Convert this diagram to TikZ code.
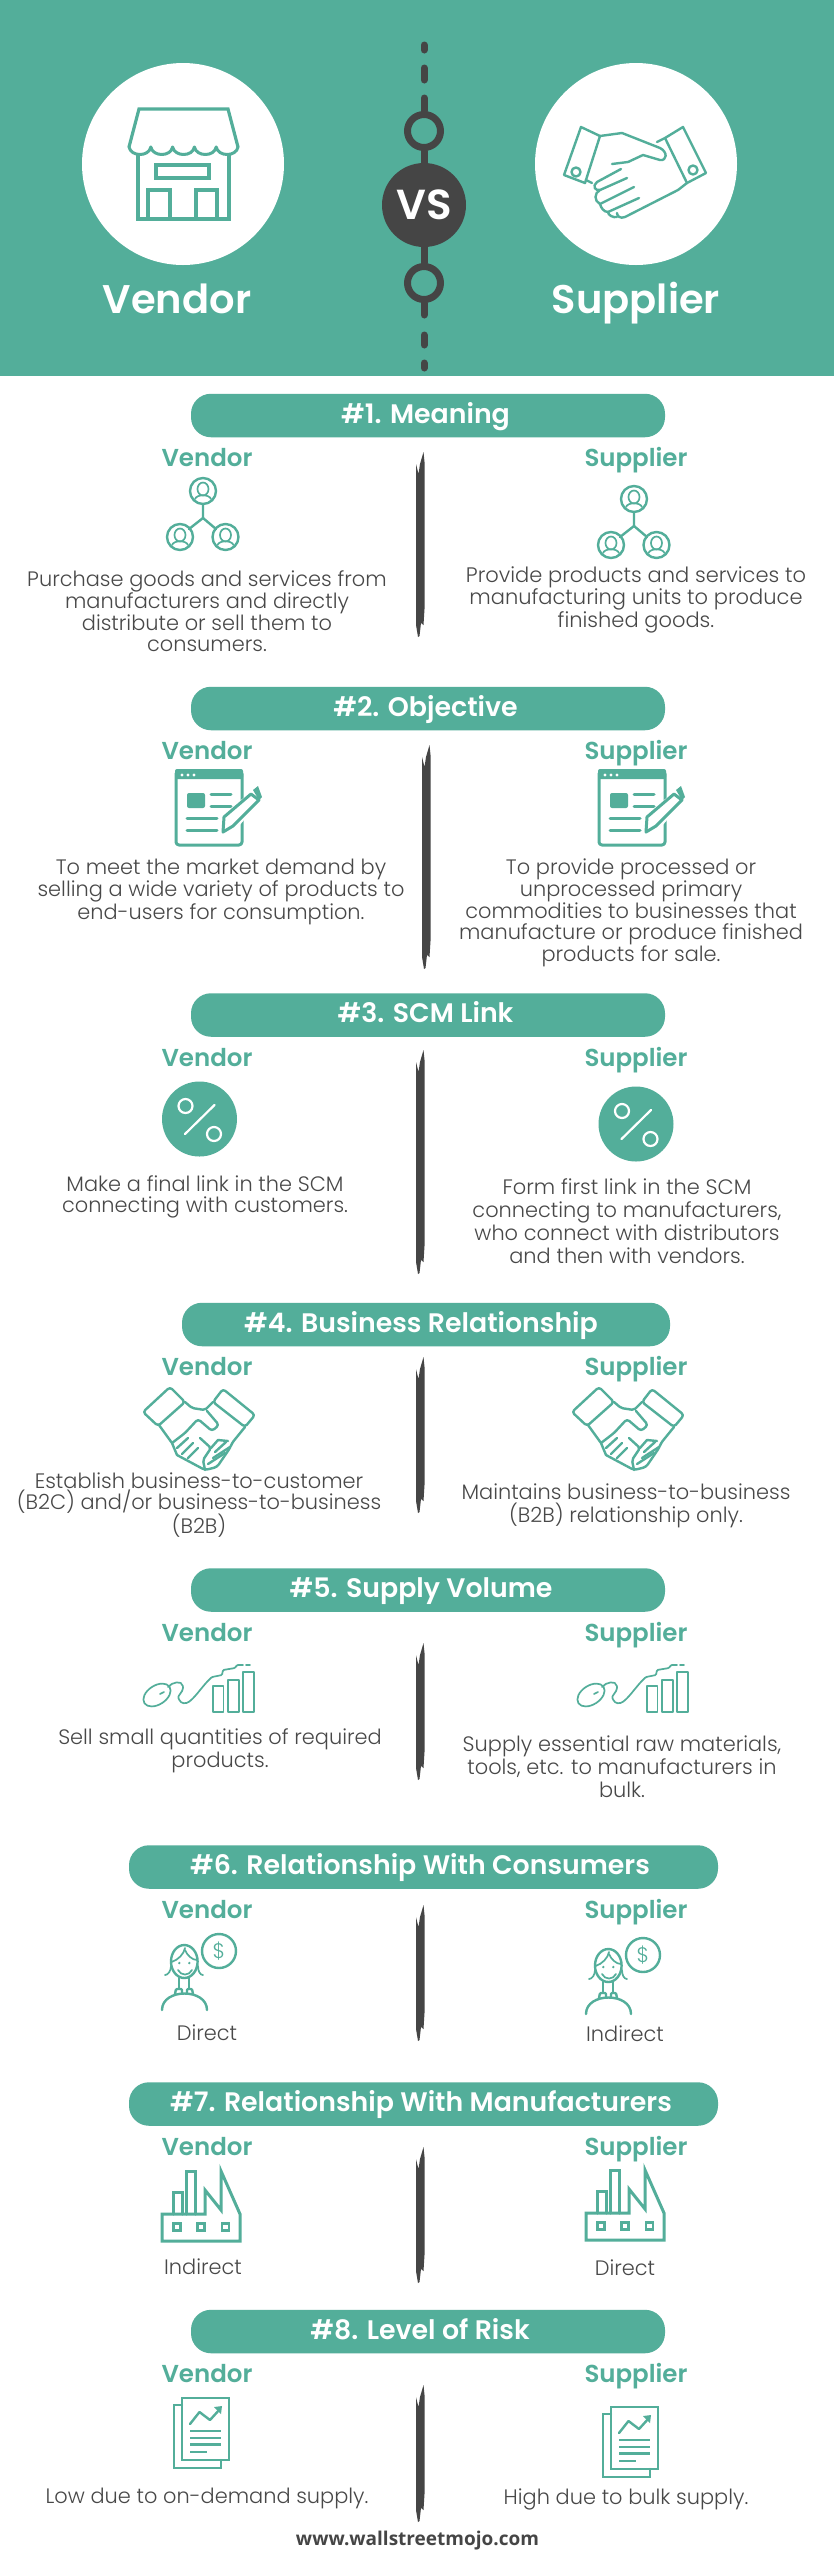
\documentclass[tikz,border=0pt]{standalone}
\usepackage{fontspec}
\setmainfont{Poppins}
\newfontfamily\bodyf{Poppins}[UprightFont=* Light]
\newfontfamily\headf{Poppins}[UprightFont=* SemiBold]
\newfontfamily\footf{Open Sans}
\definecolor{teal1}{HTML}{53AE9A}
\definecolor{dark1}{HTML}{454545}
\definecolor{txt1}{HTML}{484848}
\tikzset{
 ic/.style={draw=teal1,line width=2.4pt,line join=round,line cap=round},
 icw/.style={draw=white,line width=2.2pt,line join=round,line cap=round},
 thinic/.style={draw=teal1,line width=1.7pt,line join=round,line cap=round},
 pill/.style={fill=teal1,rounded corners=20pt,inner sep=0pt,draw=none},
 title/.style={text=white,inner sep=0pt,anchor=base,font=\headf\fontsize{26.8}{28}\selectfont},
 head/.style={text=teal1,inner sep=0pt,anchor=base,font=\headf\fontsize{24.5}{28}\selectfont},
 bigname/.style={text=white,inner sep=0pt,anchor=base,font=\headf\fontsize{40}{44}\selectfont},
 ring/.style={circle,draw=dark1,line width=7pt,inner sep=0pt,minimum size=33pt},
 chain/.style={draw=dark1,line width=7pt,line cap=round},
}
\newcommand{\bt}[6]{\node[align=center,inner sep=0pt,text=txt1,font=\bodyf\fontsize{#4}{#5}\selectfont] (#1) at (#2,#3) {#6};}
\newcommand{\pillbox}[7]{%
 \node[pill,minimum width={(#3-#2)*1pt},minimum height=43.5pt] (p#1) at ({(#2+#3)/2},#4) {};
 \node[title] (t#1) at (#5,{#6+8.7}) {#7};}
\newcommand{\heads}[2]{%
 \node[head] (v#1) at (207,{#2+9.7}) {Vendor};
 \node[head] (s#1) at (636,{#2+9.7}) {Supplier};}
\newcommand{\divbar}[3]{%
 \fill[dark1] ({#1+3.5},#2) -- ({#1+4.5},{#2+10}) -- ({#1+4.5},{#3-28}) -- ({#1+3.5},{#3-12}) -- ({#1+1},{#3-14}) -- ({#1-0.5},{#3-1}) -- ({#1-2},#3) -- ({#1-4},{#3-12}) -- ({#1-4},{#2+12}) -- ({#1-1.5},{#2+22}) -- ({#1},{#2+12}) -- cycle;}
% icons, drawn at the place of the Vendor one
\newcommand{\oneperson}[2]{%
 \draw[ic] (#1,#2) circle (13pt);
 \draw[thinic] (#1,{#2-2}) ellipse (5.5pt and 6.5pt);
 \draw[thinic] ({#1-8},{#2+8}) .. controls ({#1-6},{#2+3}) and ({#1+6},{#2+3}) .. ({#1+8},{#2+8});}
\newcommand{\iconpeople}{%
 \oneperson{203}{491}\oneperson{180}{537}\oneperson{225.5}{537}
 \draw[ic] (203,504) -- (203,518) -- (189,529);
 \draw[ic] (203,518) -- (216,529);}
\newcommand{\iconform}{%
 \draw[ic,line width=3pt,rounded corners=3pt] (176,771) rectangle (242,845);
 \fill[teal1,rounded corners=2pt] (175,769) rectangle (243,779);
 \foreach \q in {182,188,194} {\fill[white] (\q,775) circle (1.6pt);}
 \fill[teal1,rounded corners=2pt] (187,793) rectangle (205,808);
 \draw[ic,line width=3pt] (211,794) -- (231,794);
 \draw[ic,line width=3pt] (211,806) -- (231,806);
 \draw[ic,line width=3pt] (187,818) -- (217,818);
 \draw[ic,line width=3pt] (187,830) -- (217,830);
 \fill[white] (222,833) -- (222,816) -- (253,790) -- (264,797) -- (232,834) -- cycle;
 \draw[ic,line width=3pt] (223,832) -- (224,817) -- (251,794) -- (259,800) -- (233,826) -- cycle;
 \fill[teal1] (253,790) -- (258,786) -- (262,797) -- (259,800) -- cycle;}
\newcommand{\iconpct}[2]{%
 \fill[teal1] (#1,#2) circle (37.5pt);
 \draw[icw] ({#1-14},{#2-13}) circle (7pt);
 \draw[icw] ({#1+14.5},{#2+15}) circle (7pt);
 \draw[icw] ({#1+15},{#2-14}) -- ({#1-14.5},{#2+15});}
\newcommand{\iconshake}{%
 \draw[ic,rounded corners=3pt] (170,1387) -- (185,1402) -- (158,1426) -- (143,1412) -- cycle;
 \draw[ic,rounded corners=3pt] (223,1389) -- (255,1415) -- (245,1427) -- (213,1402) -- cycle;
 \draw[ic,rounded corners=2pt] (185,1402) -- (192,1408) -- (205,1410) -- (213,1402);
 \draw[ic,rounded corners=3pt] (172,1443) -- (185,1433) -- (198,1419) -- (212,1431) -- (219,1425) -- (207,1411);
 \draw[ic] (159,1425) -- (172,1443) -- (177,1455);
 \draw[ic,rounded corners=3pt] (177,1455) -- (205,1470) -- (217,1467) -- (230,1448) -- (232,1443) -- (245,1427);
 \draw[ic,rounded corners=2pt] (200,1438) -- (211,1448) -- (203,1460) -- (205,1470);
 \draw[ic] (188,1438) -- (177,1448);
 \draw[ic] (193,1443) -- (182,1454);
 \draw[ic] (198,1448) -- (188,1458);
 \draw[ic] (211,1448) -- (218,1440) -- (228,1441);
 \draw[ic] (215,1452) -- (226,1442);
 \draw[ic] (213,1458) -- (230,1447);
 \draw[ic] (208,1464) -- (225,1453);}
\newcommand{\iconmouse}{%
 \draw[thinic,rotate around={33:(157,1695)}] (157,1695) ellipse (15pt and 9.5pt);
 \draw[thinic] (160,1694) -- (164,1692);
 \draw[thinic,rounded corners=1pt] (168,1687) .. controls (172,1682) and (182,1680) .. (183,1687) .. controls (183,1692) and (177,1696) .. (179,1699) .. controls (181,1704) and (186,1704) .. (190,1701) .. controls (197,1695) and (204,1684) .. (212,1677) -- (222,1675) -- (223,1670) -- (235,1668) -- (237,1665) -- (243,1665);
 \draw[thinic] (246,1665) -- (250,1665);
 \draw[thinic] (213,1686) rectangle (223.5,1712);
 \draw[thinic] (228,1680) rectangle (239,1712);
 \draw[thinic] (243,1672) rectangle (254,1712);}
\newcommand{\iconperson}[1]{%
 \draw[ic] (219,1951) circle (17pt);
 \node[text=teal1,inner sep=0pt,font=\bodyf\fontsize{21}{22}\selectfont] (#1) at (219,1951) {\$};
 \draw[ic] (184.3,1961.5) ellipse (13.3pt and 16.5pt);
 \draw[thinic] (171.5,1962) .. controls (178,1960) and (184,1954) .. (185,1948);
 \draw[thinic] (185,1950) .. controls (187,1955) and (192,1960) .. (197,1960);
 \draw[thinic] (178,1970) .. controls (181,1976) and (189,1976) .. (192,1970);
 \fill[teal1] (179.3,1963) circle (1.3pt) (189.3,1963) circle (1.3pt);
 \draw[thinic] (171,1966) .. controls (171,1971) and (168,1975) .. (165,1975);
 \draw[thinic] (198,1966) .. controls (198,1971) and (200,1975) .. (203,1975);
 \draw[ic] (179,1978) -- (179,1988);
 \draw[ic] (189,1978) -- (189,1988);
 \draw[ic,rounded corners=1pt] (175,1994) -- (176,1989) -- (182,1989) -- (182,1993);
 \draw[ic,rounded corners=1pt] (187,1993) -- (187,1989) -- (192,1989) -- (193,1994);
 \draw[ic] (162,2010) .. controls (162,1988) and (207,1988) .. (207,2010);}
\newcommand{\iconfactory}{%
 \draw[ic,line width=3pt,line join=miter] (162,2214) -- (162,2241) -- (240,2241) -- (240,2214) -- (221,2171) -- (221,2210) -- (205,2190) -- (205,2214) -- cycle;
 \draw[ic,line width=3pt,line join=miter] (173,2214) -- (173,2192) -- (182,2192) -- (182,2214);
 \draw[ic,line width=3pt,line join=miter] (186,2214) -- (186,2171) -- (195,2171) -- (195,2214);
 \foreach \q in {177,201,225.5} {\draw[ic,line join=miter] ({\q-3.5},2223.5) rectangle ({\q+3.5},2230.5);}}
\newcommand{\icondoc}{%
 \draw[ic,line join=miter] (182,2398) rectangle (229,2460);
 \draw[ic,line join=miter] (182,2405) -- (174,2405) -- (174,2468) -- (221,2468) -- (221,2460);
 \draw[ic] (190,2424) -- (199.5,2412) -- (210,2420) -- (220,2409);
 \fill[teal1] (222,2406) -- (214,2407) -- (221,2414) -- cycle;
 \draw[ic,line cap=butt] (190,2431) -- (221,2431);
 \draw[ic,line cap=butt] (190,2438) -- (221,2438);
 \draw[ic,line cap=butt] (190,2444.5) -- (221,2444.5);
 \draw[ic,line cap=butt] (190,2452) -- (207,2452);}
\begin{document}
\begin{tikzpicture}[x=1pt,y=-1pt]
\useasboundingbox (0,0) rectangle (834,2560);
\fill[white] (0,0) rectangle (834,2560);
% header
\fill[teal1] (0,0) rectangle (834,376);
\node[circle,fill=white,minimum size=202pt,inner sep=0pt] (cv) at (183,164) {};
\node[circle,fill=white,minimum size=202pt,inner sep=0pt] (cs) at (636,164) {};
\node[bigname] (nv) at (177,313) {Vendor};
\node[bigname] (ns) at (636,313) {Supplier};
% chain
\node[circle,fill=dark1,minimum size=84pt,inner sep=0pt,text=white,font=\headf\fontsize{42}{44}\selectfont] (vs) at (424,205) {VS};
\node[ring] (r1) at (424,131) {};
\node[ring] (r2) at (424,283) {};
\coordinate (c0a) at (424,45); \coordinate (c0b) at (424,50);
\coordinate (c1a) at (424,68); \coordinate (c1b) at (424,80);
\coordinate (c2) at (424,98);
\coordinate (c3) at (424,315);
\coordinate (c4a) at (424,335); \coordinate (c4b) at (424,345);
\coordinate (c5a) at (424,363); \coordinate (c5b) at (424,368);
\draw[chain] (c0a) -- (c0b);
\draw[chain] (c1a) -- (c1b);
\draw[chain] (c2) -- (r1);
\draw[chain] (r1) -- (vs);
\draw[chain] (vs) -- (r2);
\draw[chain] (r2) -- (c3);
\draw[chain] (c4a) -- (c4b);
\draw[chain] (c5a) -- (c5b);
% store
\draw[ic,line width=3.2pt,line join=miter] (129,147) -- (139,109) -- (228,109) -- (238,147);
\foreach \q in {0,1,2,3,4} {\draw[ic,line width=3pt] ({129+\q*21.8},147) .. controls ({131+\q*21.8},157) and ({149+\q*21.8},157) .. ({150.8+\q*21.8},147);}
\draw[ic,line width=3.2pt,line join=miter] (138,155) -- (138,219) -- (229,219) -- (229,155);
\draw[ic,line width=3.2pt,line join=miter] (156,165) rectangle (209,178);
\draw[ic,line width=3.2pt,line join=miter] (148,219) -- (148,190) -- (170,190) -- (170,219);
\draw[ic,line width=3.2pt,line join=miter] (196,219) -- (196,190) -- (217,190) -- (217,219);
% big handshake
\draw[ic] (581,127) -- (600,136) -- (585,183) -- (564,175) -- cycle;
\draw[ic] (683,127) -- (665,138) -- (687,183) -- (706,173) -- cycle;
\draw[ic] (576,172) circle (4.5pt);
\draw[ic] (693,170) circle (4.5pt);
\draw[ic] (600,136) -- (622,133) -- (660,148) .. controls (668,152) and (667,161) .. (660,160) -- (643,155) -- (628,162) -- (612,164);
\draw[ic] (657,142) -- (665,138);
\draw[ic] (687,183) -- (678,190) -- (625,217) .. controls (620,219) and (617,216) .. (617,213);
\draw[ic] (586,180) -- (592,183);
\draw[ic] (621,169) -- (597,182) .. controls (592,186) and (595,191) .. (600,190);
\draw[ic] (627,178) -- (600,190) .. controls (594,193) and (594,201) .. (600,204);
\draw[ic] (634,187) -- (600,204) .. controls (601,208) and (604,212) .. (608,212);
\draw[ic] (639,198) -- (608,212) .. controls (608,215) and (613,218) .. (617,217);
% section 1
\pillbox{1}{191}{665}{415.5}{425.5}{415}{\#1. Meaning}
\heads{1}{457}
\divbar{420}{452}{637}
\iconpeople
\begin{scope}[shift={(431,8)}]\iconpeople\end{scope}
\bt{b1v}{207}{611}{20.9}{21}{Purchase goods and services from\\manufacturers and directly\\distribute or sell them to\\consumers.}
\bt{b1s}{636}{600}{21}{21}{Provide products and services to\\manufacturing units to produce\\finished goods.}
% section 2
\pillbox{2}{191}{665}{708.5}{425.5}{708}{\#2. Objective}
\heads{2}{750}
\divbar{426}{745}{969}
\iconform
\begin{scope}[shift={(423,0)}]\iconform\end{scope}
\bt{b2v}{221}{892}{20.9}{21}{To meet the market demand by\\selling a wide variety of products to\\end-users for consumption.}
\bt{b2s}{631}{913}{20.9}{21}{To provide processed or\\unprocessed primary\\commodities to businesses that\\manufacture or produce finished\\products for sale.}
% section 3
\pillbox{3}{191}{665}{1015}{425.5}{1014}{\#3. SCM Link}
\heads{3}{1057}
\divbar{420}{1050}{1274}
\iconpct{199.5}{1119}
\iconpct{636}{1124}
\bt{b3v}{205}{1197}{20.9}{21}{Make a final link in the SCM\\connecting with customers.}
\bt{b3s}{627}{1221.5}{20.9}{23}{Form first link in the SCM\\connecting to manufacturers,\\who connect with distributors\\and then with vendors.}
% section 4
\pillbox{4}{182}{670}{1324.5}{421}{1324}{\#4. Business Relationship}
\heads{4}{1366}
\divbar{420}{1357}{1513}
\iconshake
\begin{scope}[shift={(429,0)}]\iconshake\end{scope}
\bt{b4v}{199}{1505}{20.9}{21}{Establish business-to-customer\\(B2C) and/or business-to-business\\(B2B)}
\bt{b4s}{626}{1505.5}{20.9}{23}{Maintains business-to-business\\(B2B) relationship only.}
% section 5
\pillbox{5}{191}{665}{1590}{421}{1589}{\#5. Supply Volume}
\heads{5}{1632}
\divbar{420}{1643}{1780}
\iconmouse
\begin{scope}[shift={(434,0)}]\iconmouse\end{scope}
\bt{b5v}{220}{1750.5}{20.9}{23}{Sell small quantities of required\\products.}
\bt{b5s}{622}{1767}{20.9}{23}{Supply essential raw materials,\\tools, etc. to manufacturers in\\bulk.}
% section 6
\pillbox{6}{129}{718}{1867}{420}{1866}{\#6. Relationship With Consumers}
\heads{6}{1909}
\divbar{420}{1905}{2041}
\iconperson{d1}
\begin{scope}[shift={(424,4)}]\iconperson{d2}\end{scope}
\bt{b6v}{207}{2033}{20.9}{21}{Direct}
\bt{b6s}{625}{2034}{20.9}{21}{Indirect}
% section 7
\pillbox{7}{129}{718}{2104}{421}{2103}{\#7. Relationship With Manufacturers}
\heads{7}{2146}
\divbar{420}{2147}{2283}
\iconfactory
\begin{scope}[shift={(424,-1)}]\iconfactory\end{scope}
\bt{b7v}{203}{2267}{20.9}{21}{Indirect}
\bt{b7s}{625}{2268}{20.9}{21}{Direct}
% section 8
\pillbox{8}{191}{665}{2331.5}{420}{2331}{\#8. Level of Risk}
\heads{8}{2373}
\divbar{420}{2385}{2522}
\icondoc
\begin{scope}[shift={(429,9)}]\icondoc\end{scope}
\bt{b8v}{207}{2498}{20.9}{21}{Low due to on-demand supply.}
\bt{b8s}{626}{2499}{20.9}{21}{High due to bulk supply.}
\node[inner sep=0pt,text=dark1,font=\footf\bfseries\fontsize{19}{24}\selectfont] (web) at (417.5,2541) {www.wallstreetmojo.com};
\end{tikzpicture}
\end{document}
